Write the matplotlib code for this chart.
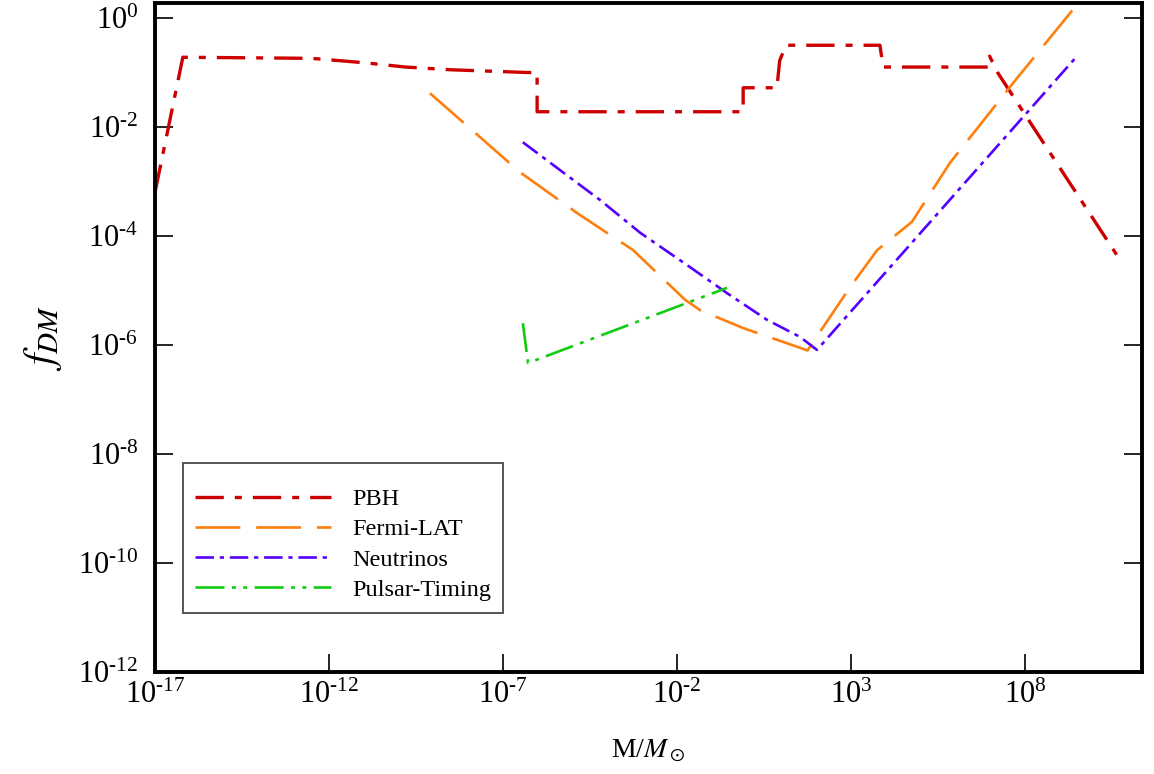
import numpy as np
import matplotlib
matplotlib.use("Agg")
import matplotlib.pyplot as plt
from matplotlib.ticker import FuncFormatter

plt.rcParams['font.family'] = 'serif'
plt.rcParams['font.serif'] = ['Liberation Serif', 'DejaVu Serif']
plt.rcParams['mathtext.fontset'] = 'stix'
plt.rcParams['axes.unicode_minus'] = False

# valores (exponentes log10)
pbh_logM = [-17.0, -16.2, -12.5, -11.0, -9.8, -8.5, -6.3, -6.02, -6.02, -0.10, -0.10,
            0.87, 0.95, 1.13, 3.83, 3.92, 6.94, 6.98, 7.22, 10.73]
pbh_logf = [-3.2, -0.72, -0.74, -0.82, -0.90, -0.95, -1.0, -1.0, -1.72, -1.72, -1.28,
            -1.28, -0.78, -0.50, -0.50, -0.90, -0.90, -0.70, -1.01, -4.44]

fermi_logM = [-9.10, -6.51, -4.87, -3.26, -1.77, -1.34, -0.10, 1.53, 1.75, 2.97, 3.75,
              4.75, 5.84, 7.66, 9.60]
fermi_logf = [-1.38, -2.83, -3.58, -4.26, -5.17, -5.36, -5.69, -6.05, -6.10, -4.94, -4.26,
              -3.74, -2.66, -1.19, 0.33]

nu_logM = [-6.43, -5.28, -4.21, -3.06, -1.63, -0.56, 0.59, 1.53, 2.02, 9.52]
nu_logf = [-2.28, -2.83, -3.34, -3.94, -4.57, -5.05, -5.54, -5.85, -6.09, -0.68]

pt_logM = [-6.43, -6.28, -0.56]
pt_logf = [-5.60, -6.33, -4.95]

x_exp = [-17, -12, -7, -2, 3, 8]
y_exp = [-12, -10, -8, -6, -4, -2, 0]


def pot10(v, pos):
    e = int(round(np.log10(v)))
    return r'$\mathdefault{10^{%s}}$' % str(e).replace('-', '\u2010')


fig = plt.figure(figsize=(11.54, 7.74), dpi=100)
ax = fig.add_axes([0.1343, 0.1318, 0.8553, 0.8643])

ax.plot(10.0**np.array(pbh_logM), 10.0**np.array(pbh_logf), color='#cc0000', lw=2.4,
        dashes=(8.5, 3.3, 2.1, 3.3), label='PBH')
ax.plot(10.0**np.array(fermi_logM), 10.0**np.array(fermi_logf), color='#ff7f0e', lw=1.9,
        dashes=(17, 6), label='Fermi-LAT')
ax.plot(10.0**np.array(nu_logM), 10.0**np.array(nu_logf), color='#5500ff', lw=1.9,
        dashes=(7, 2.2, 1.6, 2.2), label='Neutrinos')
ax.plot(10.0**np.array(pt_logM), 10.0**np.array(pt_logf), color='#11cc11', lw=1.9,
        dashes=(11, 2.8, 1.5, 2.8, 1.5, 2.8), label='Pulsar-Timing')

ax.set_xscale('log')
ax.set_yscale('log')
ax.set_xlim(1e-17, 10**11.36)
ax.set_ylim(1e-12, 10**0.275)
ax.set_xticks([10.0**e for e in x_exp])
ax.set_yticks([10.0**e for e in y_exp])
ax.minorticks_off()
ax.xaxis.set_major_formatter(FuncFormatter(pot10))
ax.yaxis.set_major_formatter(FuncFormatter(pot10))

for s in ax.spines.values():
    s.set_linewidth(2.8)
ax.tick_params(axis='both', which='major', direction='in', length=13, width=1.2,
               labelsize=22, right=True, top=False)
ax.tick_params(axis='y', pad=12)
ax.tick_params(axis='x', pad=6)

ax.set_xlabel(r'M/$M_\odot$', fontsize=20, labelpad=20)
ax.set_ylabel(r'$f_{DM}$', fontsize=30, labelpad=10)

leg = ax.legend(loc='lower left', bbox_to_anchor=(0.0284, 0.088), borderaxespad=0,
                fontsize=17.5, handlelength=5.6, handletextpad=0.85, labelspacing=0.34,
                borderpad=0.5, fancybox=False, framealpha=1,
                title=' ', title_fontsize=4)
leg.get_frame().set_edgecolor('#555555')
leg.get_frame().set_linewidth(1.4)

fig.savefig('out.png', dpi=100)
